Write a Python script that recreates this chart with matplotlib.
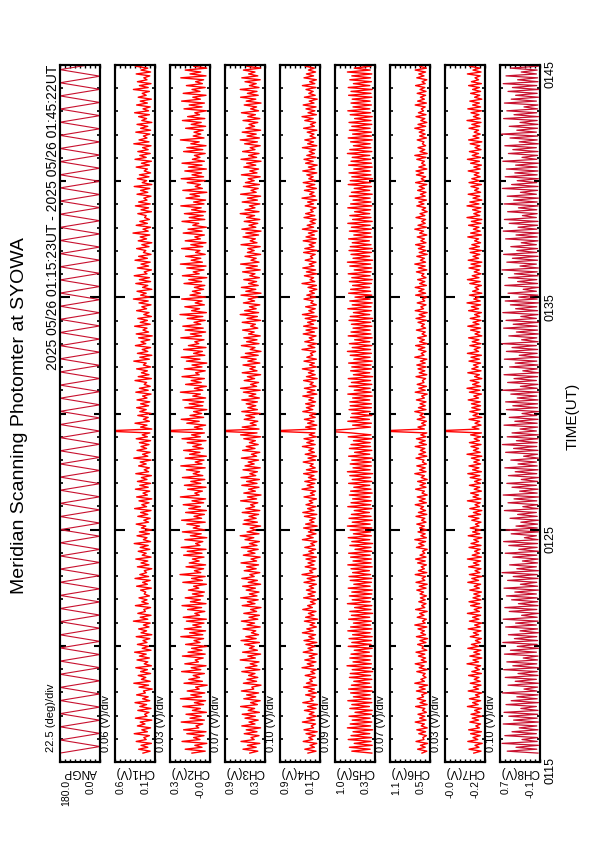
import numpy as np
import matplotlib
matplotlib.use("Agg")
import matplotlib.pyplot as plt

plt.rcParams['font.family'] = ['Liberation Sans', 'DejaVu Sans']

# time window in minutes after 01:15 UT
t_start = 23 / 60.0
t_end = 30 + 22 / 60.0
time_ticks = [0, 10, 20, 30]
time_labels = ["0115", "0125", "0135", "0145"]

# scan angle turning points (deg), one per half scan
angp_turns = [180, 0, 180, 0, 180, 0, 180, 0, 180, 0, 180, 0, 180, 0, 180, 0, 180, 0, 180, 0,
              180, 0, 180, 0, 180, 0, 180, 0, 180, 0, 180, 0, 180, 0, 180, 0, 180, 0, 180, 0,
              180, 0, 180, 0, 180, 0, 180, 0, 180, 0, 180, 0, 180, 0, 180, 0, 180, 0, 180, 0,
              180, 0, 180, 0, 180, 0, 180, 0, 180, 0, 180, 0, 180, 0, 180, 0, 180, 0, 180, 0,
              180, 0, 180, 0, 180, 0, 180, 0, 180, 0, 180, 0, 180, 0, 180, 0, 180, 0, 180, 0,
              180, 0, 180, 0, 180, 0, 180]

# channel samples, percent of each panel's full scale (every ~5 s)
ch1_pct = [30, 12, 41, 18, 35, 9, 47, 22, 28, 14, 52, 19, 33, 11, 44, 25, 37, 8, 49, 20,
           26, 15, 43, 10, 38, 21, 50, 13, 31, 17, 46, 24, 29, 7, 40, 16, 53, 12, 34, 23,
           42, 11, 36, 19, 48, 9, 27, 18, 45, 14, 39, 22, 51, 10, 32, 16, 44, 20, 30, 13,
           47, 8, 35, 21, 41, 15, 29, 12, 54, 18, 37, 10, 43, 24, 28, 11, 49, 17, 33, 20,
           40, 14, 27, 23, 36, 9, 46, 19, 31, 12, 50, 16, 38, 21, 27, 8, 44, 15, 35, 18,
           48, 10, 32, 22, 42, 13, 37, 17, 52, 11, 29, 20, 45, 14, 39, 9, 34, 23, 47, 16,
           28, 12, 43, 18, 36, 10, 51, 21, 33, 15, 40, 8, 46, 19, 30, 13, 49, 17, 38, 11,
           44, 20, 34, 9, 48, 16, 27, 14, 41, 22, 37, 10, 53, 18, 31, 12, 45, 21, 35, 15,
           39, 11, 47, 19, 32, 13, 130, 8, 36, 20, 50, 14, 29, 17, 43, 10, 38, 22, 46, 16,
           36, 13, 45, 20, 31, 10, 48, 17, 39, 12, 27, 21, 50, 9, 42, 15, 34, 19, 46, 11,
           29, 22, 53, 14, 38, 8, 44, 18, 32, 11, 49, 23, 35, 13, 41, 7, 47, 16, 30, 20,
           51, 12, 37, 19, 43, 9, 28, 15, 46, 21, 33, 10, 40, 17, 54, 13, 36, 22, 45, 8,
           31, 18, 48, 11, 39, 14, 52, 20, 27, 9, 44, 16, 35, 12, 50, 19, 41, 10, 29, 23,
           46, 15, 33, 8, 42, 21, 37, 13, 55, 17, 30, 11, 47, 19, 38, 14, 26, 22, 43, 9,
           35, 16, 49, 12, 41, 20, 28, 10, 45, 18, 36, 13, 52, 8, 32, 21, 44, 15, 39, 11,
           27, 19, 47, 14, 34, 9, 50, 22, 38, 12, 43, 17, 31, 10, 53, 15, 40, 20, 29, 13,
           48, 11, 36, 18, 45, 8, 33, 21, 41, 14, 51, 16, 30, 12, 46, 19, 37, 9, 42, 22,
           32, 14, 54, 17, 39, 10, 44, 20, 28, 13, 47, 11, 35, 18, 49, 9, 40, 16, 34, 21]
ch2_pct = [45, 12, 62, 20, 38, 8, 70, 25, 41, 15, 58, 10, 66, 28, 35, 18, 72, 14, 50, 22,
           60, 9, 44, 24, 68, 16, 39, 11, 74, 21, 48, 13, 57, 27, 36, 7, 65, 19, 53, 26,
           42, 14, 71, 23, 47, 10, 63, 29, 37, 17, 69, 12, 55, 20, 46, 8, 61, 25, 40, 16,
           73, 18, 51, 11, 64, 22, 43, 15, 59, 9, 67, 26, 38, 13, 56, 21, 70, 10, 49, 24,
           62, 17, 44, 14, 54, 28, 41, 9, 68, 19, 46, 12, 75, 23, 39, 16, 60, 11, 52, 27,
           44, 15, 66, 20, 57, 10, 72, 25, 36, 18, 63, 8, 49, 22, 69, 13, 42, 26, 58, 12,
           71, 21, 40, 14, 61, 9, 53, 24, 67, 16, 45, 11, 74, 27, 38, 19, 56, 10, 64, 23,
           48, 13, 69, 18, 42, 26, 59, 12, 73, 20, 37, 15, 62, 9, 51, 25, 66, 17, 43, 22,
           57, 10, 70, 24, 46, 14, 130, 19, 39, 11, 58, 27, 72, 16, 50, 21, 41, 8, 63, 18,
           52, 16, 68, 11, 43, 24, 74, 18, 39, 9, 61, 22, 47, 14, 70, 27, 36, 12, 64, 20,
           45, 8, 59, 25, 72, 13, 41, 19, 66, 10, 54, 28, 38, 15, 73, 21, 49, 11, 62, 17,
           68, 23, 40, 12, 57, 18, 75, 9, 46, 26, 63, 14, 37, 20, 71, 11, 50, 24, 44, 16,
           39, 13, 65, 21, 53, 8, 69, 27, 42, 15, 58, 10, 74, 19, 47, 23, 61, 12, 36, 25,
           71, 18, 48, 10, 62, 24, 38, 14, 67, 20, 55, 9, 43, 28, 70, 13, 52, 17, 64, 11,
           46, 22, 73, 15, 41, 11, 60, 26, 50, 8, 68, 19, 37, 24, 57, 12, 72, 16, 45, 21,
           63, 9, 54, 20, 70, 14, 44, 25, 39, 12, 66, 18, 58, 10, 48, 27, 74, 15, 42, 23,
           40, 17, 61, 11, 47, 22, 69, 13, 56, 26, 38, 9, 65, 20, 52, 14, 71, 24, 43, 10,
           67, 25, 45, 12, 59, 19, 36, 16, 73, 10, 50, 23, 62, 8, 41, 21, 68, 14, 55, 18]
ch3_pct = [38, 18, 55, 22, 44, 13, 60, 27, 35, 15, 52, 20, 47, 11, 58, 25, 40, 17, 50, 24,
           57, 14, 42, 26, 61, 19, 36, 12, 53, 23, 46, 16, 59, 28, 33, 10, 54, 21, 45, 18,
           41, 25, 58, 13, 49, 20, 37, 15, 62, 24, 43, 11, 56, 19, 39, 27, 51, 14, 60, 22,
           48, 16, 34, 23, 55, 12, 45, 26, 59, 18, 40, 14, 53, 21, 36, 10, 57, 25, 44, 17,
           61, 20, 39, 15, 47, 24, 56, 11, 42, 19, 58, 27, 38, 13, 52, 22, 46, 16, 60, 21,
           35, 12, 54, 25, 43, 17, 59, 20, 39, 14, 50, 28, 62, 15, 45, 23, 37, 11, 55, 19,
           52, 22, 40, 16, 57, 13, 48, 26, 36, 18, 61, 21, 44, 10, 53, 24, 41, 15, 58, 20,
           46, 14, 60, 23, 38, 19, 55, 12, 50, 27, 42, 16, 59, 21, 34, 13, 56, 25, 47, 17,
           39, 24, 53, 11, 61, 20, 130, 15, 57, 22, 37, 18, 52, 26, 48, 12, 58, 19, 43, 23,
           47, 19, 58, 14, 40, 23, 54, 12, 61, 21, 36, 16, 52, 26, 44, 11, 57, 20, 38, 24,
           55, 13, 43, 22, 60, 17, 49, 10, 37, 25, 59, 15, 46, 20, 53, 12, 41, 27, 56, 18,
           36, 24, 57, 11, 45, 19, 62, 16, 51, 22, 39, 13, 54, 26, 42, 18, 60, 10, 48, 23,
           59, 17, 41, 21, 53, 14, 38, 25, 56, 12, 47, 19, 61, 15, 35, 22, 50, 11, 44, 27,
           43, 12, 60, 20, 37, 24, 55, 16, 48, 10, 58, 23, 40, 18, 52, 13, 46, 26, 62, 15,
           50, 25, 39, 13, 57, 19, 44, 11, 61, 22, 35, 17, 54, 14, 49, 27, 42, 12, 59, 20,
           38, 16, 53, 23, 46, 10, 60, 21, 41, 15, 56, 25, 37, 12, 51, 19, 62, 14, 45, 22,
           57, 11, 48, 26, 40, 18, 55, 13, 43, 24, 59, 16, 36, 21, 52, 10, 47, 23, 61, 17,
           44, 20, 62, 15, 39, 22, 50, 12, 58, 18, 41, 25, 54, 11, 46, 19, 60, 14, 37, 24]
ch4_pct = [30, 10, 38, 14, 25, 8, 42, 18, 28, 12, 35, 7, 40, 16, 22, 11, 44, 13, 33, 9,
           27, 15, 39, 10, 31, 6, 43, 17, 24, 12, 36, 9, 29, 14, 41, 8, 34, 19, 26, 11,
           37, 13, 23, 9, 45, 16, 32, 10, 38, 14, 27, 7, 42, 18, 30, 12, 35, 8, 40, 15,
           28, 11, 44, 17, 33, 9, 25, 13, 39, 6, 36, 15, 29, 10, 43, 19, 31, 12, 24, 8,
           41, 14, 30, 11, 34, 16, 27, 9, 40, 13, 32, 7, 45, 18, 26, 10, 37, 15, 30, 12,
           35, 9, 42, 16, 28, 11, 38, 14, 23, 8, 44, 17, 33, 10, 29, 13, 41, 7, 36, 15,
           26, 12, 39, 8, 43, 15, 31, 10, 35, 18, 27, 9, 40, 14, 24, 11, 45, 16, 32, 13,
           38, 10, 29, 15, 41, 7, 34, 12, 25, 17, 42, 11, 30, 9, 37, 14, 28, 16, 44, 12,
           33, 16, 40, 9, 27, 13, 130, 11, 36, 8, 31, 15, 39, 12, 26, 10, 43, 18, 34, 14,
           36, 11, 28, 16, 43, 8, 32, 13, 39, 10, 25, 17, 41, 7, 34, 12, 29, 15, 44, 9,
           26, 14, 40, 9, 33, 18, 24, 11, 45, 13, 30, 8, 38, 16, 27, 10, 42, 14, 35, 7,
           41, 16, 31, 10, 37, 7, 44, 15, 28, 12, 36, 9, 23, 17, 40, 11, 33, 14, 26, 8,
           30, 9, 45, 13, 25, 16, 39, 8, 34, 11, 43, 15, 27, 10, 37, 18, 24, 12, 41, 7,
           38, 15, 27, 11, 42, 9, 35, 14, 29, 7, 44, 16, 32, 12, 25, 10, 40, 13, 36, 17,
           24, 10, 37, 16, 31, 8, 45, 12, 26, 15, 39, 9, 34, 13, 42, 11, 28, 17, 33, 8,
           43, 13, 29, 7, 36, 17, 40, 10, 33, 14, 27, 12, 44, 8, 31, 16, 38, 11, 25, 15,
           32, 8, 41, 14, 24, 11, 38, 17, 45, 9, 30, 13, 35, 10, 42, 15, 27, 7, 39, 12,
           28, 17, 35, 10, 44, 13, 26, 9, 40, 16, 34, 11, 29, 14, 37, 8, 43, 12, 31, 10]
ch5_pct = [8, 58, 12, 64, 7, 52, 10, 67, 9, 60, 13, 55, 6, 69, 11, 62, 8, 57, 12, 65,
           9, 50, 7, 63, 14, 58, 8, 68, 10, 54, 12, 61, 7, 66, 9, 59, 13, 53, 8, 64,
           11, 62, 6, 57, 10, 70, 9, 55, 12, 63, 8, 60, 14, 52, 7, 67, 10, 58, 9, 65,
           7, 56, 12, 68, 8, 61, 11, 54, 9, 66, 13, 59, 6, 63, 10, 51, 8, 69, 12, 57,
           10, 64, 8, 58, 7, 67, 12, 53, 9, 62, 8, 65, 11, 56, 14, 60, 7, 68, 10, 55,
           9, 61, 12, 66, 8, 50, 10, 63, 6, 58, 13, 67, 9, 54, 11, 62, 8, 69, 12, 57,
           7, 65, 10, 59, 14, 52, 8, 68, 11, 60, 9, 56, 12, 64, 7, 61, 10, 53, 13, 66,
           8, 57, 11, 63, 6, 69, 12, 55, 9, 62, 10, 58, 7, 66, 13, 51, 8, 64, 11, 60,
           12, 54, 8, 67, 10, 59, 130, 63, 11, 56, 9, 68, 14, 61, 8, 58, 12, 65, 9, 62,
           9, 63, 13, 56, 7, 68, 10, 52, 12, 65, 8, 59, 11, 67, 6, 54, 13, 61, 9, 58,
           10, 66, 7, 53, 12, 62, 9, 69, 11, 57, 8, 64, 13, 51, 7, 67, 10, 60, 12, 55,
           8, 59, 11, 65, 6, 62, 13, 54, 9, 68, 10, 57, 7, 63, 12, 50, 8, 66, 11, 61,
           13, 56, 9, 64, 7, 58, 12, 67, 10, 52, 8, 63, 11, 69, 6, 55, 13, 60, 9, 65,
           7, 62, 10, 57, 14, 66, 8, 53, 11, 64, 9, 59, 12, 68, 7, 56, 10, 63, 13, 51,
           11, 68, 8, 61, 10, 55, 12, 64, 7, 59, 13, 52, 9, 67, 11, 62, 6, 58, 10, 65,
           12, 53, 7, 66, 9, 60, 11, 57, 13, 69, 8, 63, 10, 54, 12, 61, 7, 67, 9, 56,
           9, 64, 12, 58, 8, 65, 10, 51, 7, 62, 11, 68, 13, 55, 9, 60, 12, 57, 8, 66,
           10, 60, 7, 67, 13, 54, 9, 63, 11, 58, 8, 69, 12, 52, 10, 64, 7, 61, 11, 59]
ch6_pct = [20, 8, 31, 12, 24, 6, 35, 15, 18, 9, 28, 11, 33, 7, 22, 14, 37, 10, 26, 13,
           30, 9, 19, 13, 36, 7, 25, 11, 32, 16, 21, 8, 34, 12, 27, 6, 38, 14, 23, 10,
           18, 12, 33, 7, 27, 15, 37, 9, 22, 11, 29, 13, 35, 8, 20, 16, 31, 10, 25, 6,
           34, 11, 23, 14, 30, 8, 38, 12, 19, 9, 32, 15, 26, 7, 36, 13, 21, 10, 28, 12,
           24, 9, 25, 16, 33, 10, 27, 7, 35, 13, 20, 11, 37, 8, 29, 14, 22, 9, 31, 12,
           36, 10, 25, 13, 19, 7, 34, 15, 28, 11, 38, 9, 23, 12, 30, 8, 26, 14, 33, 10,
           21, 13, 35, 8, 29, 11, 24, 16, 37, 9, 27, 12, 32, 7, 20, 14, 36, 10, 25, 11,
           31, 7, 22, 14, 38, 10, 26, 12, 33, 9, 19, 15, 35, 8, 28, 11, 24, 13, 37, 9,
           27, 12, 34, 10, 23, 8, 130, 14, 30, 11, 21, 9, 32, 13, 25, 16, 38, 10, 29, 12,
           25, 10, 34, 14, 21, 7, 37, 12, 28, 9, 32, 15, 19, 11, 35, 8, 27, 13, 30, 10,
           33, 12, 24, 8, 38, 15, 22, 10, 29, 13, 36, 7, 26, 14, 31, 9, 20, 12, 34, 11,
           22, 14, 30, 9, 35, 12, 27, 7, 37, 16, 23, 10, 32, 13, 19, 8, 36, 11, 28, 15,
           37, 9, 26, 13, 31, 10, 21, 15, 34, 8, 29, 12, 38, 11, 24, 14, 33, 7, 27, 10,
           29, 13, 36, 10, 23, 14, 32, 8, 26, 16, 38, 9, 30, 12, 21, 11, 35, 13, 25, 7,
           20, 11, 33, 15, 28, 9, 37, 12, 24, 10, 31, 14, 27, 8, 36, 13, 22, 11, 34, 16,
           35, 8, 28, 12, 21, 14, 33, 10, 38, 7, 25, 13, 30, 11, 19, 15, 32, 9, 26, 12,
           27, 14, 38, 11, 30, 8, 23, 13, 35, 10, 29, 16, 22, 12, 37, 9, 31, 14, 24, 11,
           32, 10, 25, 13, 36, 12, 20, 8, 33, 15, 28, 11, 37, 9, 26, 14, 30, 12, 35, 10]
ch7_pct = [28, 10, 40, 15, 25, 7, 43, 18, 30, 12, 36, 9, 41, 14, 23, 11, 38, 16, 32, 8,
           35, 13, 26, 9, 44, 17, 31, 11, 39, 14, 24, 8, 42, 16, 29, 10, 37, 12, 27, 15,
           41, 9, 33, 14, 25, 11, 45, 16, 30, 8, 38, 13, 28, 10, 43, 15, 34, 12, 24, 9,
           37, 16, 29, 10, 42, 12, 26, 8, 39, 15, 31, 11, 44, 14, 27, 9, 36, 13, 40, 10,
           30, 12, 28, 9, 38, 14, 27, 11, 43, 16, 33, 8, 39, 13, 25, 10, 41, 15, 29, 11,
           44, 9, 32, 14, 26, 12, 40, 10, 35, 16, 28, 8, 42, 13, 31, 11, 37, 15, 24, 10,
           33, 15, 41, 11, 29, 8, 38, 14, 25, 12, 44, 10, 30, 16, 36, 9, 27, 13, 39, 11,
           26, 10, 37, 13, 43, 9, 31, 15, 40, 11, 28, 14, 34, 8, 45, 12, 29, 16, 35, 10,
           39, 14, 27, 11, 36, 9, 130, 15, 32, 10, 25, 13, 40, 8, 30, 16, 38, 12, 33, 11,
           34, 12, 42, 16, 28, 9, 39, 13, 45, 11, 31, 15, 37, 8, 26, 14, 43, 10, 33, 17,
           29, 11, 40, 14, 35, 9, 44, 16, 27, 12, 38, 10, 32, 15, 41, 8, 25, 13, 36, 11,
           43, 15, 30, 10, 37, 13, 26, 9, 41, 16, 34, 11, 45, 12, 28, 14, 39, 8, 31, 16,
           25, 9, 38, 12, 44, 15, 32, 10, 27, 14, 40, 11, 35, 8, 42, 16, 30, 13, 37, 9,
           39, 14, 33, 11, 26, 16, 43, 9, 36, 12, 29, 15, 41, 10, 34, 8, 45, 13, 28, 11,
           31, 10, 45, 15, 38, 8, 30, 13, 42, 11, 26, 16, 35, 9, 40, 14, 33, 12, 27, 15,
           42, 12, 28, 9, 36, 14, 44, 11, 32, 16, 39, 10, 25, 13, 37, 8, 41, 15, 30, 12,
           27, 16, 40, 13, 33, 10, 45, 12, 29, 15, 35, 9, 43, 11, 31, 14, 38, 8, 26, 13,
           36, 11, 31, 14, 41, 9, 34, 16, 25, 12, 44, 10, 30, 13, 39, 15, 28, 11, 42, 10]
ch8_pct = [5, 82, 8, 60, 4, 95, 7, 45, 6, 88, 9, 70, 5, 52, 8, 92, 4, 66, 7, 78,
           6, 90, 5, 48, 9, 85, 4, 72, 7, 58, 5, 94, 8, 40, 6, 80, 4, 62, 9, 87,
           5, 55, 7, 91, 4, 68, 8, 83, 6, 42, 5, 89, 9, 74, 4, 57, 7, 93, 6, 64,
           8, 79, 4, 50, 6, 86, 9, 61, 5, 92, 7, 46, 4, 77, 8, 88, 5, 54, 6, 71,
           7, 84, 9, 63, 4, 90, 6, 49, 8, 81, 5, 67, 7, 95, 4, 58, 9, 76, 6, 44,
           5, 68, 8, 87, 4, 53, 7, 78, 6, 91, 5, 39, 9, 72, 4, 85, 7, 60, 6, 48,
           4, 75, 7, 56, 9, 89, 5, 43, 6, 80, 8, 65, 4, 92, 7, 51, 5, 70, 9, 83,
           6, 47, 4, 79, 8, 62, 5, 88, 7, 55, 9, 73, 4, 41, 6, 86, 5, 66, 8, 94,
           7, 59, 5, 82, 4, 70, 9, 50, 6, 90, 7, 63, 5, 77, 8, 45, 4, 84, 6, 68,
           6, 86, 5, 57, 8, 73, 4, 94, 7, 49, 5, 81, 9, 65, 6, 90, 4, 43, 7, 76,
           5, 62, 8, 89, 4, 52, 7, 84, 6, 70, 9, 95, 5, 46, 8, 78, 4, 59, 6, 91,
           7, 67, 4, 85, 9, 48, 5, 93, 6, 61, 8, 74, 4, 87, 7, 53, 5, 80, 9, 42,
           4, 88, 6, 56, 8, 79, 5, 64, 7, 95, 4, 50, 9, 83, 6, 69, 5, 91, 8, 58,
           6, 73, 9, 47, 5, 86, 7, 60, 4, 92, 8, 55, 6, 77, 5, 89, 9, 44, 7, 81,
           8, 54, 5, 90, 7, 66, 4, 82, 9, 49, 6, 94, 5, 71, 8, 57, 4, 87, 7, 63,
           5, 84, 7, 61, 4, 93, 8, 45, 6, 79, 5, 68, 9, 88, 4, 52, 7, 75, 6, 96,
           9, 58, 6, 77, 5, 50, 7, 91, 4, 65, 8, 83, 6, 40, 5, 89, 9, 72, 4, 61,
           7, 80, 4, 69, 8, 92, 5, 56, 6, 85, 9, 47, 7, 74, 4, 63, 8, 90, 5, 52]

names = ["ANGP", "CH1(V)", "CH2(V)", "CH3(V)", "CH4(V)", "CH5(V)", "CH6(V)", "CH7(V)", "CH8(V)"]
lows = [0.0, 0.12, -0.01, 0.33, 0.12, 0.28, 0.52, -0.24, -0.12]
highs = [180.0, 0.60, 0.26, 0.89, 0.92, 1.00, 1.08, -0.01, 0.68]
div_labels = ["22.5 (deg)/div", "0.06 (V)/div", "0.03 (V)/div", "0.07 (V)/div", "0.10 (V)/div",
              "0.09 (V)/div", "0.07 (V)/div", "0.03 (V)/div", "0.10 (V)/div"]
high_labels = ["180.0", "0.6", "0.3", "0.9", "0.9", "1.0", "1.1", "-0.0", "0.7"]
low_labels = ["0.0", "0.1", "-0.0", "0.3", "0.1", "0.3", "0.5", "-0.2", "-0.1"]

W, H = 595, 842
TOP, BOT = 65, 762
LEFT0, PITCH, PW = 60, 55, 40


def fx(x):
    return x / W


def fy(y):
    return 1 - y / H


fig = plt.figure(figsize=(W / 100, H / 100), dpi=100)

channels = [ch1_pct, ch2_pct, ch3_pct, ch4_pct, ch5_pct, ch6_pct, ch7_pct, ch8_pct]

for i, name in enumerate(names):
    left = LEFT0 + PITCH * i
    lo, hi = lows[i], highs[i]
    ax = fig.add_axes([fx(left), fy(BOT), PW / W, (BOT - TOP) / H])
    if i == 0:
        vals = np.array(angp_turns, dtype=float)
        color, lw = "#c8102e", 0.8
    else:
        pct = np.array(channels[i - 1], dtype=float)
        vals = lo + pct / 100.0 * (hi - lo)
        color, lw = ("#c8102e", 0.9) if i == 8 else ("#ff0000", 1.0)
    t = np.linspace(t_start, t_end, len(vals))
    ax.plot(vals, t, color=color, lw=lw)
    ax.set_xlim(hi, lo)
    ax.set_ylim(0, 30)

    ax.set_xticks(np.linspace(lo, hi, 9))
    ax.set_yticks(time_ticks)
    ax.set_yticks(np.arange(0, 31, 1), minor=True)
    ax.tick_params(axis="x", which="major", direction="in", length=2.5, width=1.0,
                   top=True, bottom=True, labelbottom=False)
    ax.tick_params(axis="y", which="major", direction="in", length=7, width=1.5,
                   left=True, right=True, labelleft=False)
    ax.tick_params(axis="y", which="minor", direction="in", length=2.5, width=1.2,
                   left=True, right=True)
    for side in ("left", "right"):
        sec = ax.secondary_yaxis(side)
        sec.set_yticks([5, 15, 25])
        sec.set_yticklabels([])
        sec.tick_params(direction="in", length=4.5, width=1.5)
        sec.spines[side].set_linewidth(1.5)
    for sp in ax.spines.values():
        sp.set_linewidth(1.5)

    if i == len(names) - 1:
        ax.set_yticklabels(time_labels)
        ax.tick_params(axis="y", which="major", labelright=True, labelrotation=90,
                       labelsize=9, pad=3)

    fig.text(fx(left + PW / 2), fy(772), name, rotation=180, ha="center", va="center",
             fontsize=8.5)
    fig.text(fx(left + 1), fy(780), high_labels[i], rotation=90, ha="left", va="top",
             fontsize=7.5)
    fig.text(fx(left + PW - 4), fy(780), low_labels[i], rotation=90, ha="right", va="top",
             fontsize=7.5)
    fig.text(fx(left - 9), fy(752), div_labels[i], rotation=90, ha="center", va="bottom",
             fontsize=8)

fig.text(fx(53), fy(TOP), "2025 05/26 01:15:23UT - 2025 05/26 01:45:22UT", rotation=90,
         ha="center", va="top", fontsize=10)
fig.text(fx(20), fy(416), "Meridian Scanning Photomter at SYOWA", rotation=90,
         ha="center", va="center", fontsize=14)
fig.text(fx(573), fy(416), "TIME(UT)", rotation=90, ha="center", va="center", fontsize=11)

fig.savefig("out.png", dpi=100)
